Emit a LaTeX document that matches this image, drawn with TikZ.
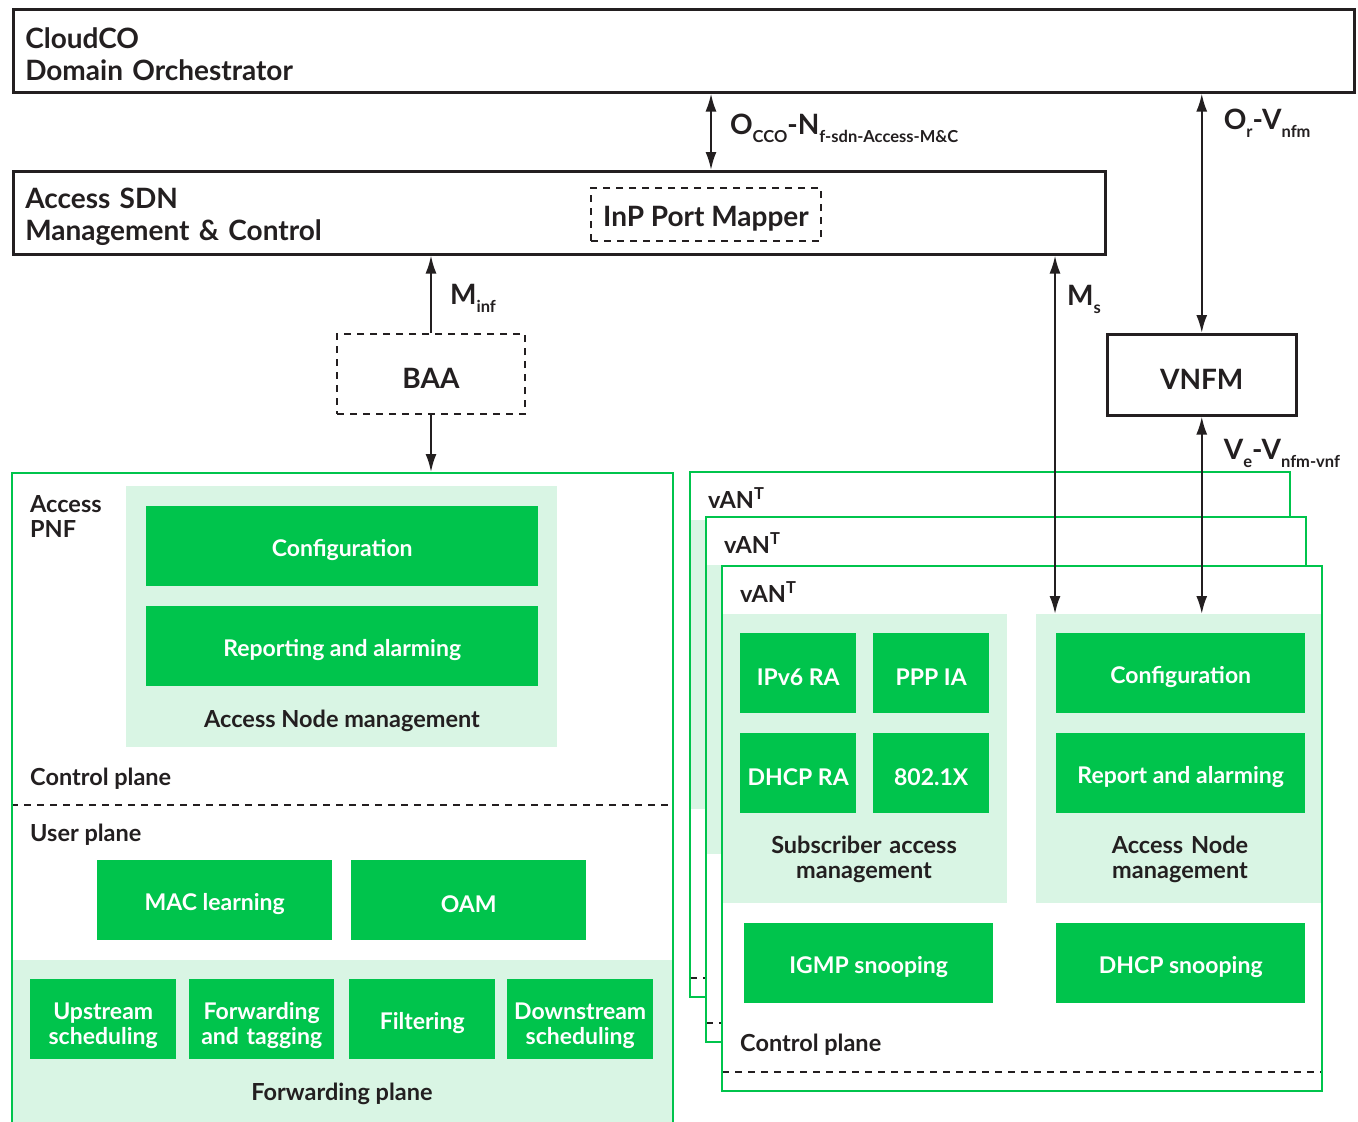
\documentclass[tikz,border=0pt]{standalone}
\usepackage{fontspec}
\setmainfont{Lato}
\usetikzlibrary{arrows.meta}
\definecolor{ngreen}{RGB}{0,196,76}
\definecolor{lgreen}{RGB}{217,245,228}
\definecolor{dk}{RGB}{35,31,32}
\tikzset{
  blk/.style={draw=dk,line width=2.5pt,anchor=north west,inner sep=0pt},
  dbox/.style={draw=dk,line width=2pt,dash pattern=on 7pt off 6pt,anchor=north west,inner sep=0pt},
  gbox/.style={fill=ngreen,text=white,anchor=north west,minimum height=80pt,inner sep=0pt,align=center,
    font=\fontsize{23}{25}\selectfont\bfseries,execute at begin node={\rule{0pt}{24pt}}},
  gtwo/.style={text width=#1,execute at begin node={\rule{0pt}{29pt}}},
  lbox/.style={fill=lgreen,anchor=north west,inner sep=0pt},
  gline/.style={draw=ngreen,line width=2pt},
  dline/.style={draw=dk,line width=2pt,dash pattern=on 7pt off 6pt},
  lbl/.style={text=dk,align=center,inner sep=0pt,font=\fontsize{23.5}{25}\selectfont\bfseries,
    execute at begin node={\rule{0pt}{22.5pt}}},
  ttl/.style={text=dk,font=\fontsize{28}{32}\selectfont\bfseries,execute at begin node={\rule{0pt}{28.5pt}}},
  alab/.style={text=dk,inner sep=0pt,anchor=base west,font=\fontsize{28}{32}\selectfont\bfseries},
  arr/.style={draw=dk,line width=2.2pt,-{Latex[length=18pt,width=11pt]}},
  biarr/.style={draw=dk,line width=2.2pt,{Latex[length=18pt,width=11pt]}-{Latex[length=18pt,width=11pt]}}
}
\newcommand{\lowsub}[1]{\raisebox{-8pt}{\fontsize{16.5}{16.5}\selectfont #1}}
\begin{document}
\begin{tikzpicture}[x=1pt,y=-1pt]
\useasboundingbox (0,0) rectangle (1358,1122);
\fill[white] (0,0) rectangle (1358,1122);
\node[blk,ttl,minimum width=1341pt,minimum height=83pt,align=left,text width=1317pt] (cco) at (12,8) {CloudCO\\Domain Orchestrator};
\node[blk,ttl,minimum width=1092pt,minimum height=83pt,align=left,text width=1068pt] (sdn) at (12,170) {Access SDN\\Management \& Control};
\node[dbox,ttl,minimum width=230pt,minimum height=53pt] (ipm) at (590,187) {InP Port Mapper};
\node[dbox,ttl,minimum width=188pt,minimum height=80pt] (baa) at (336,333) {BAA};
\node[blk,ttl,minimum width=189pt,minimum height=81pt] (vnfm) at (1106,333) {VNFM};
% access PNF
\node[lbox,minimum width=431pt,minimum height=261pt] (anmp) at (126,486) {};
\node[gbox,minimum width=392pt] (cfgp) at (146,506) {Configuration};
\node[gbox,minimum width=392pt] (repp) at (146,606) {Reporting and alarming};
\node[lbl] (anmplbl) at (342,718) {Access Node management};
\node[lbl,anchor=north west,align=left,text width=120pt] (pnflbl) at (30,490) {Access\\PNF};
\node[lbl,anchor=west] (cplp) at (30,776) {Control plane};
\draw[dline] (11,805) -- (672,805);
\node[lbl,anchor=west] (uplp) at (30,832) {User plane};
\node[gbox,minimum width=235pt] (mac) at (97,860) {MAC learning};
\node[gbox,minimum width=235pt] (oam) at (351,860) {OAM};
\node[lbox,minimum width=661pt,minimum height=170pt] (fwp) at (11,960) {};
\node[gbox,gtwo=146pt,minimum width=146pt] (ups) at (30,979) {Upstream\\scheduling};
\node[gbox,gtwo=145pt,minimum width=145pt] (fwt) at (189,979) {Forwarding\\and tagging};
\node[gbox,minimum width=146pt] (flt) at (349,979) {Filtering};
\node[gbox,gtwo=146pt,minimum width=146pt] (dns) at (507,979) {Downstream\\scheduling};
\node[lbl] (fwplbl) at (342,1091) {Forwarding plane};
\node[gline,anchor=north west,minimum width=661pt,minimum height=680pt] (pnf) at (11,472) {};
% vAN stack
\foreach \dx/\dy/\i in {0/0/0,16/45/1,32/94/2}{
  \begin{scope}[shift={(\dx,\dy)}]
    \fill[white] (690,472) rectangle (1290,997);
    \node[lbox,minimum width=285pt,minimum height=289pt] (sam\i) at (690,520) {};
    \node[lbox,minimum width=286pt,minimum height=289pt] (anm\i) at (1004,520) {};
    \draw[dline] (690,978) -- (1290,978);
    \node[lbl,anchor=west] (vant\i) at (708,497) {vAN\textsuperscript{T}};
    \draw[gline] (690,472) rectangle (1290,997);
  \end{scope}
}
\node[gbox,minimum width=116pt] (ipv6) at (740,633) {IPv6 RA};
\node[gbox,minimum width=116pt] (pppia) at (873,633) {PPP IA};
\node[gbox,minimum width=116pt] (dhra) at (740,733) {DHCP RA};
\node[gbox,minimum width=116pt] (dotx) at (873,733) {802.1X};
\node[gbox,minimum width=249pt] (cfgv) at (1056,633) {Configuration};
\node[gbox,minimum width=249pt] (repv) at (1056,733) {Report and alarming};
\node[lbl,text width=270pt] (samlbl) at (864,857) {Subscriber access\\management};
\node[lbl,text width=270pt] (anmvlbl) at (1180,857) {Access Node\\management};
\node[gbox,minimum width=249pt] (igmp) at (744,923) {IGMP snooping};
\node[gbox,minimum width=249pt] (dhsn) at (1056,923) {DHCP snooping};
\node[lbl,anchor=west] (cplv) at (740,1042) {Control plane};
% interfaces
\coordinate (msx) at (1055,0);
\draw[biarr] ([xshift=5pt]ipm.center |- cco.south) -- ([xshift=5pt]ipm.center |- sdn.north)
  node[alab,pos=.54,xshift=18pt]{O\lowsub{CCO}-N\lowsub{f-sdn-Access-M\&C}};
\draw[biarr] (vnfm.north |- cco.south) -- (vnfm.north)
  node[alab,pos=.15,xshift=21pt]{O\lowsub{r}-V\lowsub{nfm}};
\draw[biarr] (vnfm.south) -- (vnfm.south |- anm2.north)
  node[alab,pos=.22,xshift=21pt]{V\lowsub{e}-V\lowsub{nfm-vnf}};
\draw[biarr] (sdn.south -| msx) -- (anm2.north -| msx)
  node[alab,pos=.14,xshift=11pt]{M\lowsub{s}};
\draw[arr] (baa.north) -- (baa.north |- sdn.south)
  node[alab,pos=.37,xshift=18pt]{M\lowsub{inf}};
\draw[arr] (baa.south) -- (baa.south |- pnf.north);
\end{tikzpicture}
\end{document}
